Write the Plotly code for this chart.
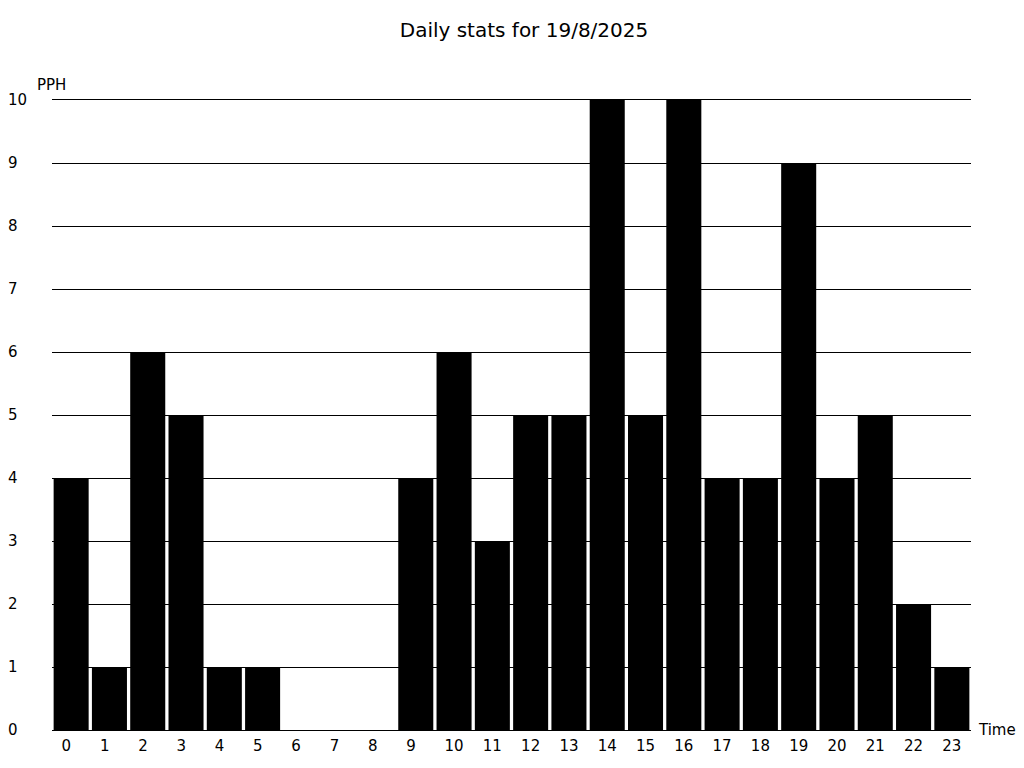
import plotly.graph_objects as go

hours = [str(h) for h in range(24)]
pph = [4, 1, 6, 5, 1, 1, 0, 0, 0, 4, 6, 3, 5, 5, 10, 5, 10, 4, 4, 9, 4, 5, 2, 1]
y_ticks = list(range(0, 11))
title_text = "Daily stats for 19/8/2025"
y_label = "PPH"
x_label = "Time"

FONT = "DejaVu Sans"
FS = 15

# labels in the reference are left-aligned in a two-digit slot
x_ticktext = [h.ljust(2, "\u2007") for h in hours]

fig = go.Figure()
fig.add_trace(go.Bar(
    x=hours, y=pph,
    marker=dict(color="black", line=dict(width=0)),
    hoverinfo="x+y",
))

annotations = []
for v in y_ticks:
    annotations.append(dict(
        x=0, xref="paper", xshift=-46, xanchor="left",
        y=v, yref="y", yanchor="middle",
        text=str(v), showarrow=False,
        font=dict(family=FONT, size=FS, color="black"),
    ))
annotations.append(dict(
    x=0, xref="paper", xshift=-17, xanchor="left",
    y=1, yref="paper", yshift=15, yanchor="middle",
    text=y_label, showarrow=False,
    font=dict(family=FONT, size=FS, color="black"),
))
annotations.append(dict(
    x=1, xref="paper", xshift=5, xanchor="left",
    y=0, yref="y", yanchor="middle",
    text=x_label, showarrow=False,
    font=dict(family=FONT, size=FS, color="black"),
))

W, H = 1012, 752
L, T, PW, PH = 44, 92, 919, 630

fig.update_layout(
    width=W, height=H,
    margin=dict(l=L, r=W - L - PW, t=T, b=H - T - PH, pad=0, autoexpand=False),
    paper_bgcolor="white", plot_bgcolor="white",
    title=dict(text=title_text, x=516 / W, xref="container", xanchor="center",
               y=1 - 22 / H, yref="container", yanchor="middle",
               font=dict(family=FONT, size=20, color="black")),
    font=dict(family=FONT, size=FS, color="black"),
    bargap=0.085,
    showlegend=False,
    annotations=annotations,
    xaxis=dict(
        type="category", range=[-0.5, 23.5], automargin=False,
        tickvals=hours, ticktext=x_ticktext,
        showgrid=False, showline=True, mirror=True, linecolor="black", linewidth=1,
        ticks="", tickfont=dict(family=FONT, size=FS, color="black"),
        ticklabelstandoff=2,
        zeroline=False, fixedrange=True,
    ),
    yaxis=dict(
        range=[0, 10], tickvals=y_ticks, showticklabels=False, automargin=False,
        showgrid=True, gridcolor="black", gridwidth=1,
        zeroline=False, showline=False, ticks="", fixedrange=True,
    ),
)

fig.write_html("out.html")
